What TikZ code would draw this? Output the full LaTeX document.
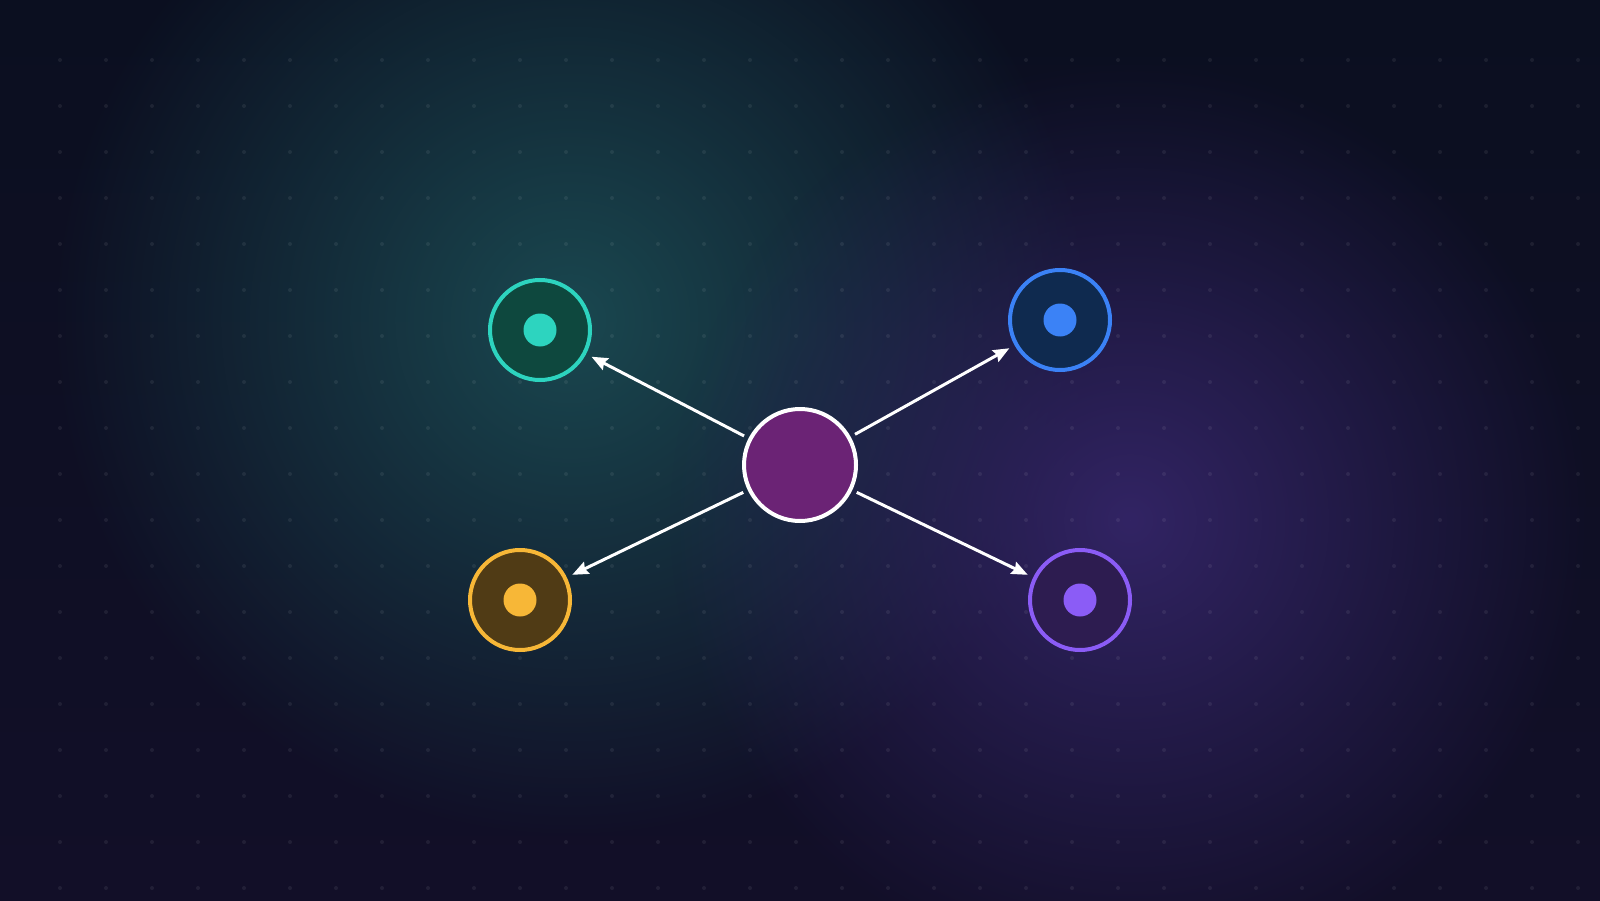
\documentclass[tikz,border=0pt]{standalone}
\usepackage{xcolor}
\usepackage{tikz}
\usetikzlibrary{arrows.meta, positioning, fadings}
\definecolor{bgtop}{RGB}{11, 15, 32}
\definecolor{bgbottom}{RGB}{18, 15, 40}
\definecolor{glowteal}{RGB}{26, 72, 80}
\definecolor{glowviolet}{RGB}{50, 36, 100}
\definecolor{hubfill}{RGB}{107, 35, 117}
\definecolor{nodeteal}{RGB}{45, 212, 191}
\definecolor{fillteal}{RGB}{14, 72, 62}
\definecolor{nodeblue}{RGB}{59, 130, 246}
\definecolor{fillblue}{RGB}{15, 42, 79}
\definecolor{nodeamber}{RGB}{247, 183, 55}
\definecolor{fillamber}{RGB}{80, 59, 21}
\definecolor{nodeviolet}{RGB}{139, 92, 246}
\definecolor{fillviolet}{RGB}{45, 28, 80}
\tikzfading[name=glowfade, inner color=transparent!0, outer color=transparent!100]

\tikzset{
  satellite/.style={circle, draw, line width=0.4mm, minimum size=10mm, inner sep=0pt},
  core/.style={circle, fill, minimum size=3.3mm, inner sep=0pt},
  hub/.style={circle, draw=white, fill=hubfill, line width=0.4mm, minimum size=11.2mm, inner sep=0pt},
  link/.style={-{Stealth[length=1.6mm, width=1.3mm, inset=0.2mm]}, white, line width=0.3mm, shorten <=0.5mm, shorten >=0.6mm},
}

\begin{document}
\begin{tikzpicture}
\useasboundingbox (0,0) rectangle (16,9);
% background and glows
\shade[top color=bgtop, bottom color=bgbottom] (0,0) rectangle (16,9);
\fill[glowteal, path fading=glowfade] (5.7,5.8) circle (5.2);
\fill[glowviolet, path fading=glowfade] (11.3,3.8) circle (4.6);
% dot grid
\foreach \i in {0,...,33}
  \foreach \j in {0,...,18}
    \fill[white, opacity=0.07] (0.6+0.46*\i, 8.4-0.46*\j) circle (0.2mm);

% hub and satellites
\node[hub] (hub) at (8,4.35) {};
\node[satellite, draw=nodeteal, fill=fillteal] (teal) at (5.4,5.7) {};
\node[core, nodeteal] (tealcore) at (teal) {};
\node[satellite, draw=nodeblue, fill=fillblue] (blue) at (10.6,5.8) {};
\node[core, nodeblue] (bluecore) at (blue) {};
\node[satellite, draw=nodeamber, fill=fillamber] (amber) at (5.2,3.0) {};
\node[core, nodeamber] (ambercore) at (amber) {};
\node[satellite, draw=nodeviolet, fill=fillviolet] (violet) at (10.8,3.0) {};
\node[core, nodeviolet] (violetcore) at (violet) {};

% links
\draw[link] (hub) -- (teal);
\draw[link] (hub) -- (blue);
\draw[link] (hub) -- (amber);
\draw[link] (hub) -- (violet);
\end{tikzpicture}
\end{document}
